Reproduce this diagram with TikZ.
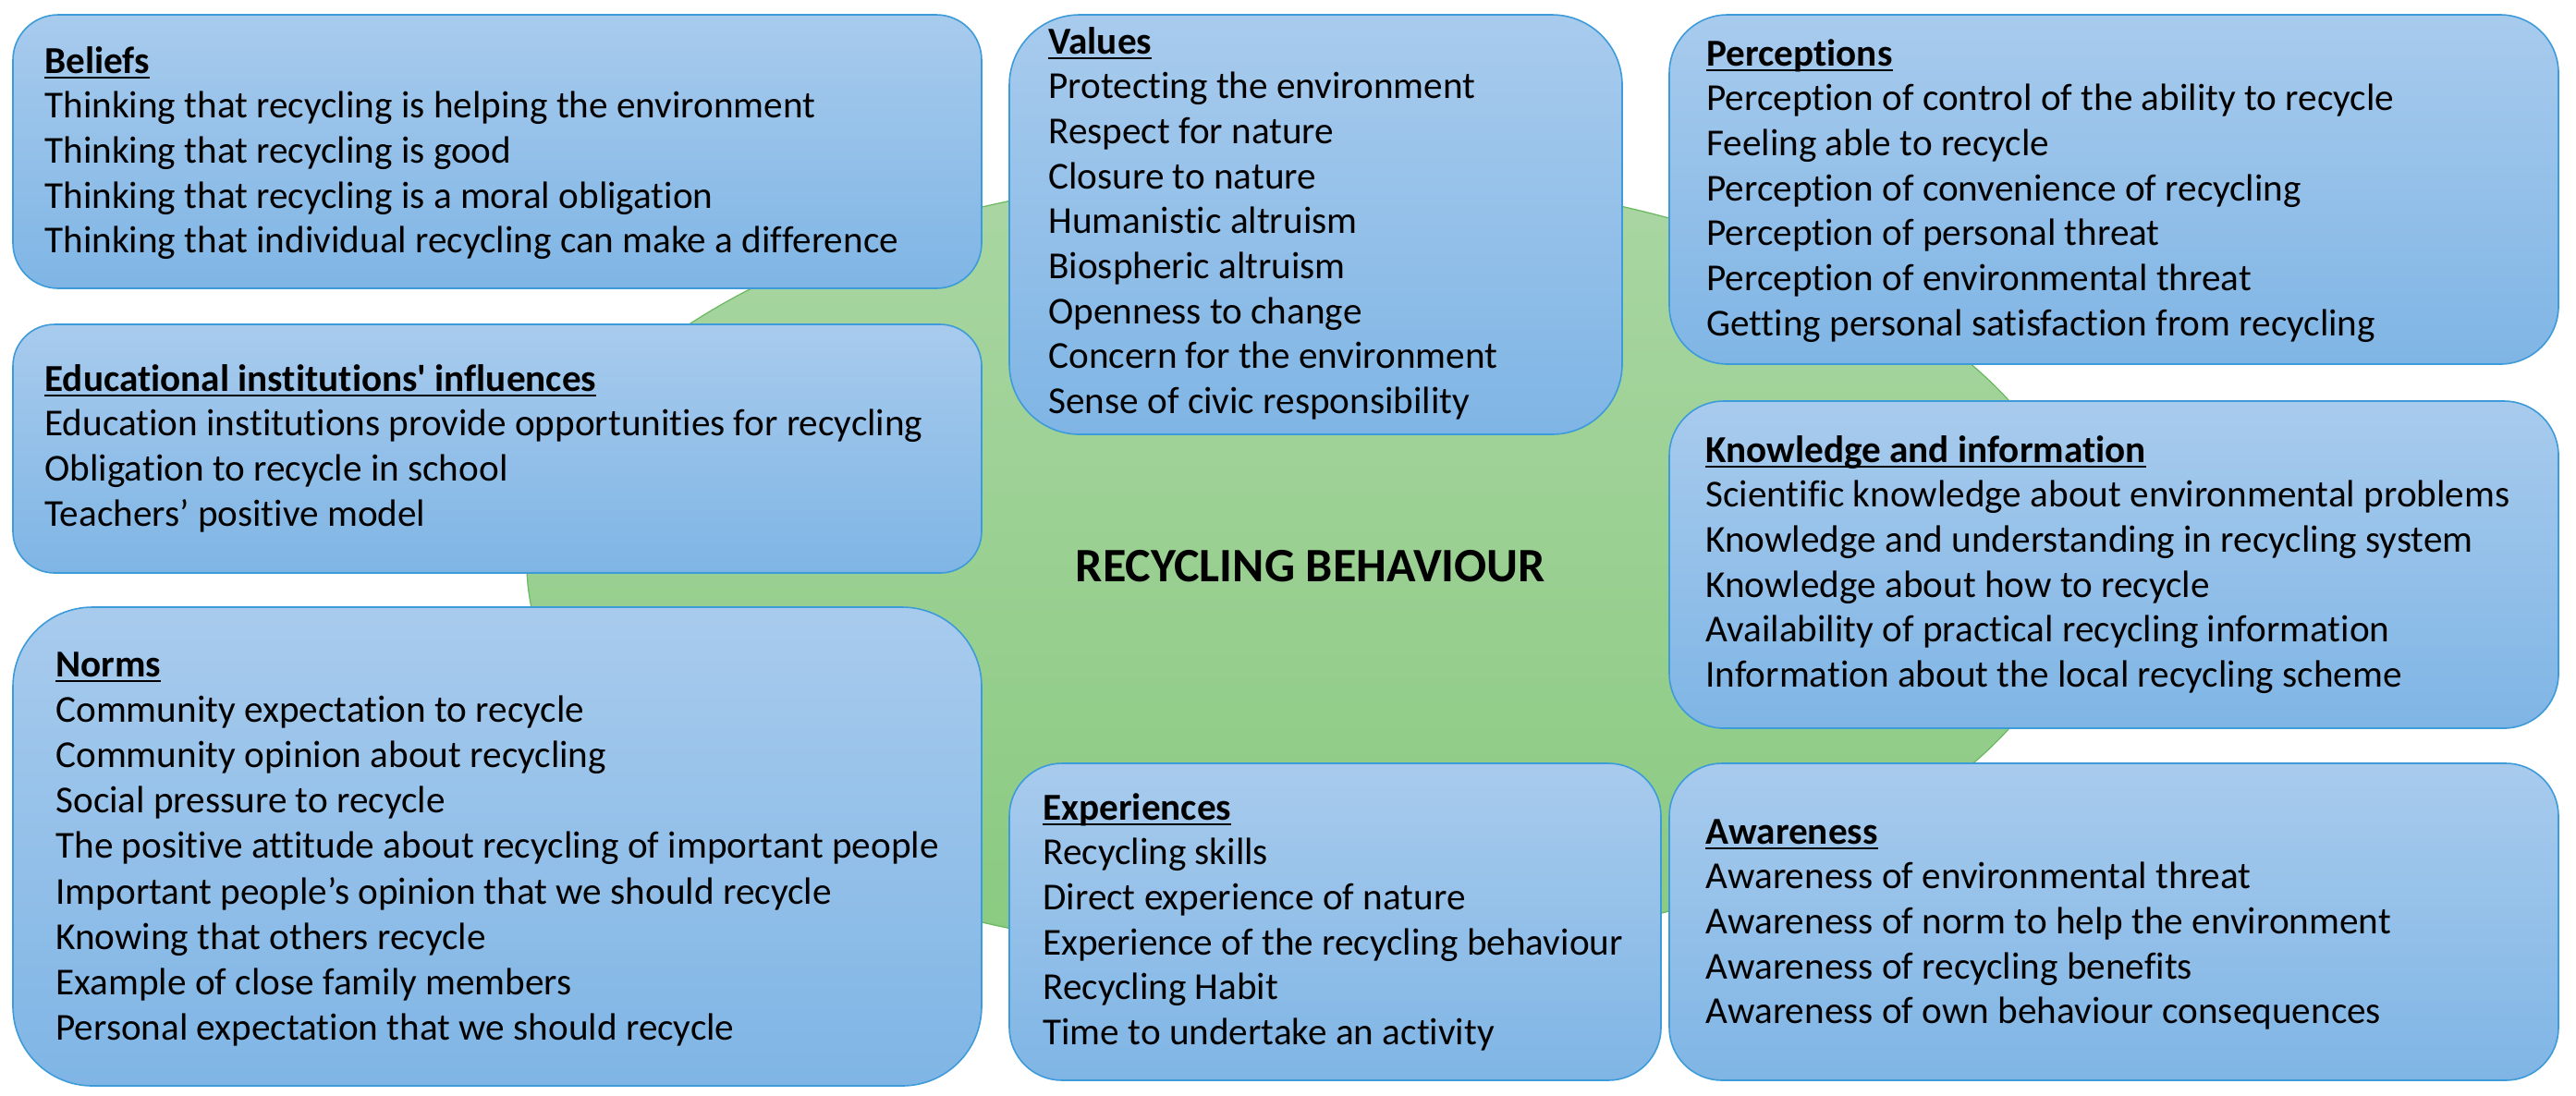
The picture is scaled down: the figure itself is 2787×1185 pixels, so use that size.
\documentclass[tikz,border=0pt]{standalone}
\usepackage{fontspec}
\newfontfamily\carl{Carlito}[RawFeature={-liga}]
\usetikzlibrary{fit,shapes.geometric}
\definecolor{boxtop}{RGB}{168,203,237}
\definecolor{boxbot}{RGB}{127,181,229}
\definecolor{boxline}{RGB}{62,155,218}
\definecolor{greentop}{RGB}{170,214,163}
\definecolor{greenbot}{RGB}{137,202,128}
\definecolor{greenline}{RGB}{104,184,94}
\newcommand\hd[1]{\setbox0\hbox{\bfseries #1}\rlap{\rule[-3.2pt]{\wd0}{1.1pt}}\box0}
\newcommand\boxtext[2][24.35pt]{\vtop{\baselineskip=#1\lineskiplimit=-100pt\halign{##\hfil\cr#2\crcr}}}
\tikzset{
  panel/.style={draw=boxline, line width=0.8pt, top color=boxtop, bottom color=boxbot, inner sep=0pt},
  txt/.style={anchor=base west, inner sep=0pt, font=\carl\fontsize{20.6pt}{24.35pt}\selectfont, text=black},
}
\begin{document}
\begin{tikzpicture}[x=0.5pt,y=-0.5pt]
\useasboundingbox (0,0) rectangle (2787,1185);
\fill[white] (0,0) rectangle (2787,1185);
% central ellipse
\node[draw=greenline, line width=0.6pt, top color=greentop, bottom color=greenbot,
      shape=ellipse, minimum width=840pt, minimum height=425pt, inner sep=0pt] (core) at (1410,611) {};
\node[inner sep=0pt, font=\carl\fontsize{26pt}{30pt}\selectfont\bfseries] (coretitle) at (1418,613) {RECYCLING BEHAVIOUR};
% boxes
\node[panel, rounded corners=24.5pt, fit={(14,16) (1062,312)}] (beliefs) {};
\node[panel, rounded corners=22.5pt, fit={(14,351) (1062,620)}] (edu) {};
\node[panel, rounded corners=43pt, fit={(14,657) (1062,1175)}] (norms) {};
\node[panel, rounded corners=38pt, fit={(1092,16) (1755,470)}] (values) {};
\node[panel, rounded corners=31.5pt, fit={(1806,16) (2768,394)}] (perc) {};
\node[panel, rounded corners=29.5pt, fit={(1806,434) (2768,788)}] (know) {};
\node[panel, rounded corners=28.5pt, fit={(1092,826) (1797,1169)}] (exp) {};
\node[panel, rounded corners=28.5pt, fit={(1806,826) (2768,1169)}] (aware) {};
% texts
\node[txt] (beliefs-t) at (48,79) {\boxtext{\hd{Beliefs}\cr
Thinking that recycling is helping the environment\cr
Thinking that recycling is good\cr
Thinking that recycling is a moral obligation\cr
Thinking that individual recycling can make a difference}};
\node[txt] (edu-t) at (48,423) {\boxtext{\hd{Educational institutions' influences}\cr
Education institutions provide opportunities for recycling\cr
Obligation to recycle in school\cr
Teachers’ positive model}};
\node[txt] (norms-t) at (60,732) {\boxtext[24.6pt]{\hd{Norms}\cr
Community expectation to recycle\cr
Community opinion about recycling\cr
Social pressure to recycle\cr
The positive attitude about recycling of important people\cr
Important people’s opinion that we should recycle\cr
Knowing that others recycle\cr
Example of close family members\cr
Personal expectation that we should recycle}};
\node[txt] (values-t) at (1134,58) {\boxtext{\hd{Values}\cr
Protecting the environment\cr
Respect for nature\cr
Closure to nature\cr
Humanistic altruism\cr
Biospheric altruism\cr
Openness to change\cr
Concern for the environment\cr
Sense of civic responsibility}};
\node[txt] (perc-t) at (1846,71) {\boxtext{\hd{Perceptions}\cr
Perception of control of the ability to recycle\cr
Feeling able to recycle\cr
Perception of convenience of recycling\cr
Perception of personal threat\cr
Perception of environmental threat\cr
Getting personal satisfaction from recycling}};
\node[txt] (know-t) at (1845,500) {\boxtext{\hd{Knowledge and information}\cr
Scientific knowledge about environmental problems\cr
Knowledge and understanding in recycling system\cr
Knowledge about how to recycle\cr
Availability of practical recycling information\cr
Information about the local recycling scheme}};
\node[txt] (exp-t) at (1128,887) {\boxtext{\hd{Experiences}\cr
Recycling skills\cr
Direct experience of nature\cr
Experience of the recycling behaviour\cr
Recycling Habit\cr
Time to undertake an activity}};
\node[txt] (aware-t) at (1845,913) {\boxtext{\hd{Awareness}\cr
Awareness of environmental threat\cr
Awareness of norm to help the environment\cr
Awareness of recycling benefits\cr
Awareness of own behaviour consequences}};
\end{tikzpicture}
\end{document}
